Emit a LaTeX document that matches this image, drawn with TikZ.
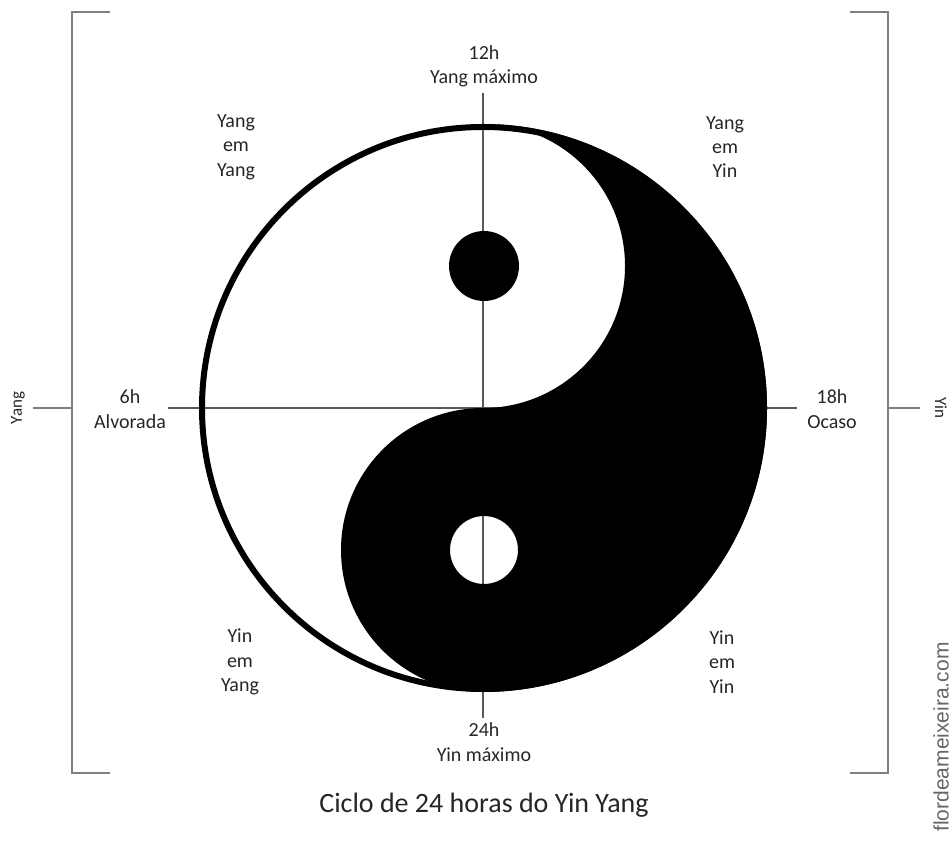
\documentclass[tikz,border=0pt]{standalone}
\usepackage{fontspec}
\setmainfont{Carlito}
\newfontfamily\wmfont{Liberation Sans}
\begin{document}
\begin{tikzpicture}[x=1pt,y=1pt,
  lbl/.style={text=black!85, font=\fontsize{20}{24.4}\selectfont, align=center, inner sep=0pt},
  axis/.style={draw=black!65, line width=1.3pt},
  brk/.style={draw=black!50, line width=1.8pt},
  side/.style={text=black!85, font=\fontsize{17}{20}\selectfont, inner sep=0pt}]
\useasboundingbox (0,0) rectangle (952,846);
% axes
\coordinate (vt) at (483,753);
\coordinate (vb) at (483,128);
\coordinate (hl) at (168,438);
\coordinate (hr) at (797,438);
\draw[axis] (vt) -- (vb);
\draw[axis] (hl) -- (hr);
% yin yang
\fill[black, even odd rule] (483,722) arc[start angle=90,end angle=-90,radius=284]
  arc[start angle=-90,end angle=-270,radius=142]
  arc[start angle=-90,end angle=90,radius=142] -- cycle
  (484,296) circle[radius=34];
\fill[black] (484,580) circle[radius=35];
\draw[line width=6pt] (483,438) circle[radius=281];
% brackets
\coordinate (lt) at (110,834); \coordinate (ltc) at (72,834);
\coordinate (lbc) at (72,73); \coordinate (lb) at (110,73);
\coordinate (lm) at (72,438); \coordinate (lmt) at (33,438);
\draw[brk] (lt) -- (ltc) -- (lbc) -- (lb);
\draw[brk] (lm) -- (lmt);
\coordinate (rt) at (850,834); \coordinate (rtc) at (888,834);
\coordinate (rbc) at (888,73); \coordinate (rb) at (850,73);
\coordinate (rm) at (888,438); \coordinate (rmt) at (920,438);
\draw[brk] (rt) -- (rtc) -- (rbc) -- (rb);
\draw[brk] (rm) -- (rmt);
% labels
\node[lbl] (top) at (484,780) {12h\\Yang máximo};
\node[lbl] (yy) at (236,699) {Yang\\em\\Yang};
\node[lbl] (yyin) at (725,699) {Yang\\em\\Yin};
\node[lbl] (six) at (130,437) {6h\\Alvorada};
\node[lbl] (eig) at (832,437) {18h\\Ocaso};
\node[lbl] (yiny) at (240,184) {Yin\\em\\Yang};
\node[lbl] (yinyin) at (722,184) {Yin\\em\\Yin};
\node[lbl] (bot) at (484,104) {24h\\Yin máximo};
\node[text=black!85, font=\fontsize{28}{32}\selectfont, inner sep=0pt] (title) at (484,41) {Ciclo de 24 horas do Yin Yang};
\node[side, rotate=90] (yang) at (18,438) {Yang};
\node[side, rotate=-90] (yin) at (941,438) {Yin};
\node[text=black!60, font=\wmfont\fontsize{21}{24}\selectfont, rotate=90, inner sep=0pt] (wm) at (941,109) {flordeameixeira.com};
\end{tikzpicture}
\end{document}
